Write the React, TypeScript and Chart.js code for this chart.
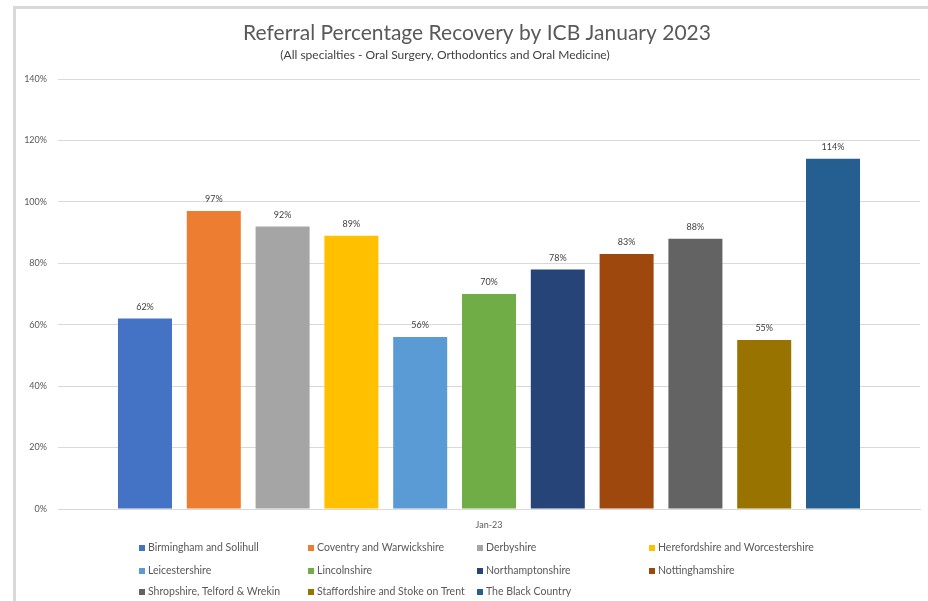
import React, { useEffect, useRef } from "react";
import { Chart, registerables } from "chart.js";

Chart.register(...registerables);

const categories = ["Jan-23"];
const icbNames = [
  "Birmingham and Solihull",
  "Coventry and Warwickshire",
  "Derbyshire",
  "Herefordshire and Worcestershire",
  "Leicestershire",
  "Lincolnshire",
  "Northamptonshire",
  "Nottinghamshire",
  "Shropshire, Telford & Wrekin",
  "Staffordshire and Stoke on Trent",
  "The Black Country",
];
const recoveryPct = [62, 97, 92, 89, 56, 70, 78, 83, 88, 55, 114];
const barColors = [
  "#4472C4",
  "#ED7D31",
  "#A5A5A5",
  "#FFC000",
  "#5B9BD5",
  "#70AD47",
  "#264478",
  "#9E480E",
  "#636363",
  "#997300",
  "#255E91",
];
const yMax = 140;
const yStep = 20;
const titleText = "Referral Percentage Recovery by ICB January 2023";
const subtitleText = "(All specialties - Oral Surgery, Orthodontics and Oral Medicine)";

const FONT = "Lato, 'Liberation Sans', sans-serif";

const framePlugin = {
  id: "frame",
  beforeDraw(chart: any) {
    const ctx = chart.ctx;
    ctx.save();
    ctx.fillStyle = "#ffffff";
    ctx.fillRect(0, 0, chart.width, chart.height);
    ctx.strokeStyle = "#d9d9d9";
    ctx.lineWidth = 3;
    ctx.strokeRect(14.5, 7.5, chart.width + 20, chart.height + 20);
    ctx.restore();
  },
};

const titlePlugin = {
  id: "titles",
  afterDraw(chart: any) {
    const ctx = chart.ctx;
    ctx.save();
    ctx.textAlign = "center";
    ctx.textBaseline = "middle";
    ctx.fillStyle = "#595959";
    ctx.font = `21px ${FONT}`;
    ctx.fillText(titleText, 477, 33);
    ctx.fillStyle = "#404040";
    ctx.font = `12px ${FONT}`;
    ctx.fillText(subtitleText, 445, 55);
    ctx.restore();
  },
};

const barLabelPlugin = {
  id: "barLabels",
  afterDatasetsDraw(chart: any) {
    const ctx = chart.ctx;
    ctx.save();
    ctx.textAlign = "center";
    ctx.textBaseline = "bottom";
    ctx.fillStyle = "#404040";
    ctx.font = `9px ${FONT}`;
    chart.data.datasets.forEach((ds: any, i: number) => {
      const meta = chart.getDatasetMeta(i);
      meta.data.forEach((bar: any, j: number) => {
        ctx.fillText(`${ds.data[j]}%`, bar.x, bar.y - 7);
      });
    });
    ctx.restore();
  },
};

const legendPlugin = {
  id: "gridLegend",
  afterDraw(chart: any) {
    const ctx = chart.ctx;
    const colX = [139, 308, 477, 649];
    const rowY = [548, 571, 592];
    ctx.save();
    ctx.font = `10.5px ${FONT}`;
    ctx.textBaseline = "middle";
    ctx.textAlign = "left";
    chart.data.datasets.forEach((ds: any, i: number) => {
      const x = colX[i % 4];
      const y = rowY[Math.floor(i / 4)];
      ctx.fillStyle = ds.backgroundColor;
      ctx.fillRect(x, y - 3, 6, 6);
      ctx.fillStyle = "#595959";
      ctx.fillText(ds.label, x + 9, y);
    });
    ctx.restore();
  },
};

export default function App() {
  const ref = useRef<HTMLCanvasElement | null>(null);
  useEffect(() => {
    if (!ref.current) return;
    const chart = new Chart(ref.current, {
      type: "bar",
      data: {
        labels: categories,
        datasets: icbNames.map((name, i) => ({
          label: name,
          data: [recoveryPct[i]],
          backgroundColor: barColors[i],
          categoryPercentage: 0.878,
          barPercentage: 0.785,
        })),
      },
      options: {
        responsive: false,
        animation: false,
        layout: { padding: { top: 79, right: 8, left: 0, bottom: 0 } },
        plugins: {
          legend: { display: false },
          title: { display: false },
          tooltip: { enabled: false },
        },
        scales: {
          x: {
            grid: { display: false, drawTicks: false },
            border: { display: true, color: "#d9d9d9" },
            ticks: {
              color: "#595959",
              font: { size: 9, family: FONT },
              padding: 11,
            },
            afterFit(scale: any) {
              scale.height = 92;
            },
          },
          y: {
            min: 0,
            max: yMax,
            grid: { color: "#d9d9d9", drawTicks: false },
            border: { display: false },
            ticks: {
              stepSize: yStep,
              color: "#595959",
              font: { size: 9, family: FONT },
              padding: 11,
              callback: (v: any) => `${v}%`,
            },
            afterFit(scale: any) {
              scale.width = 58;
            },
          },
        },
      },
      plugins: [framePlugin, titlePlugin, barLabelPlugin, legendPlugin],
    });
    return () => chart.destroy();
  }, []);
  return (
    <div style={{ position: "fixed", left: 0, top: 0, width: 928, height: 601, overflow: "hidden" }}>
      <canvas ref={ref} width={928} height={601} style={{ width: 928, height: 601, display: "block" }} />
    </div>
  );
}
